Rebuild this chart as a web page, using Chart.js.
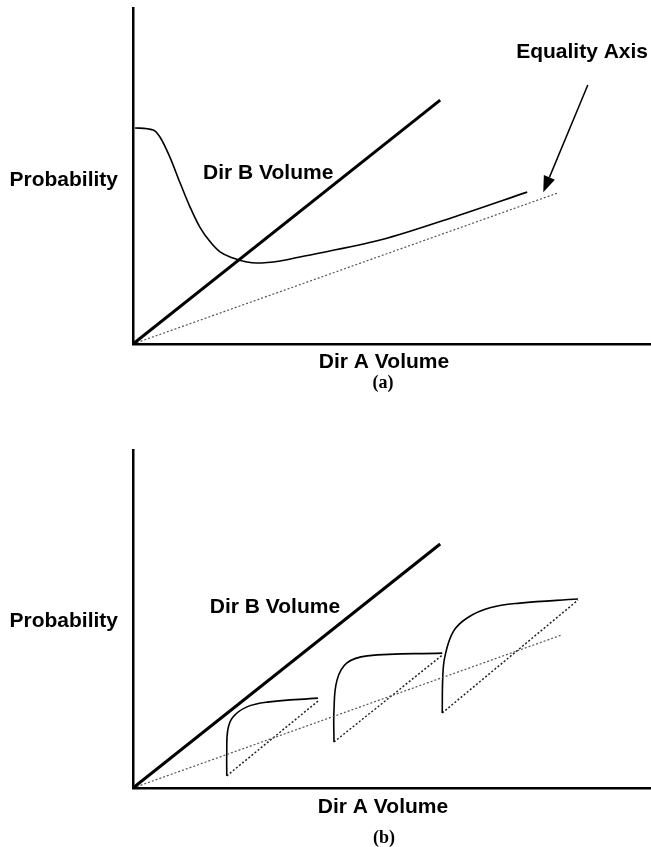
<!DOCTYPE html>
<html>
<head>
<meta charset="utf-8">
<script src="https://cdn.jsdelivr.net/npm/chart.js@4.4.0/dist/chart.umd.min.js"></script>
<style>
  html, body { margin: 0; padding: 0; background: #fff; }
  body { width: 651px; height: 847px; position: relative; overflow: hidden; }
  canvas { position: absolute; left: 0; }
  #panelA { top: 0; }
  #panelB { top: 420px; }
</style>
</head>
<body>
<canvas id="panelA" width="651" height="400"></canvas>
<canvas id="panelB" width="651" height="427"></canvas>
<script>
// Schematic values (x = Dir A volume, y = probability / Dir B volume), both on a 0-100 scale
const xRange = [0, 100];
const yRange = [0, 100];

// panel (a)
const dirBLineA = [{ x: 0, y: 0 }, { x: 59.3, y: 72.6 }];
const equalityA = [{ x: 0, y: 0 }, { x: 81.9, y: 44.9 }];
const probCurveA = [
  { x: 0.4, y: 64.3 }, { x: 3.9, y: 63.7 }, { x: 5.2, y: 61.6 }, { x: 7.1, y: 55.7 },
  { x: 9.1, y: 47.9 }, { x: 11.0, y: 40.8 }, { x: 12.9, y: 34.8 }, { x: 14.9, y: 30.4 },
  { x: 16.8, y: 27.4 }, { x: 19.3, y: 25.6 }, { x: 22.0, y: 24.4 }, { x: 23.9, y: 24.1 },
  { x: 28.4, y: 24.7 }, { x: 32.2, y: 25.9 }, { x: 47.9, y: 31.0 }, { x: 61.4, y: 37.5 },
  { x: 76.1, y: 45.2 }
];
const arrowA = [{ x: 87.8, y: 77.1 }, { x: 79.2, y: 45.2 }];

// panel (b)
const dirBLineB = [{ x: 0, y: 0 }, { x: 59.3, y: 72.2 }];
const equalityB = [{ x: 0, y: 0 }, { x: 82.8, y: 45.3 }];
const hook1 = [
  { x: 18.1, y: 3.6 }, { x: 18.1, y: 10.4 }, { x: 18.3, y: 17.2 }, { x: 19.3, y: 21.0 },
  { x: 22.0, y: 24.0 }, { x: 25.9, y: 25.4 }, { x: 35.7, y: 26.6 }
];
const chord1 = [{ x: 18.1, y: 3.6 }, { x: 35.7, y: 25.7 }];
const hook2 = [
  { x: 38.8, y: 13.6 }, { x: 38.8, y: 23.1 }, { x: 39.4, y: 32.0 }, { x: 41.3, y: 37.0 },
  { x: 45.2, y: 39.1 }, { x: 59.7, y: 39.9 }
];
const chord2 = [{ x: 38.8, y: 13.6 }, { x: 59.7, y: 39.3 }];
const hook3 = [
  { x: 59.7, y: 22.2 }, { x: 59.8, y: 32.8 }, { x: 60.2, y: 38.8 }, { x: 61.8, y: 46.2 },
  { x: 64.5, y: 50.3 }, { x: 68.9, y: 53.3 }, { x: 74.7, y: 54.7 }, { x: 85.9, y: 55.9 }
];
const chord3 = [{ x: 59.7, y: 22.2 }, { x: 85.9, y: 55.6 }];

const labelFont = 'bold 21px "Liberation Sans", Arial, sans-serif';
const captionFont = 'bold 18px "Liberation Serif", "Times New Roman", serif';

const solid = (data, w) => ({ data, borderColor: '#000', borderWidth: w, showLine: true, pointRadius: 0, fill: false });
const dotted = (data, color, w) => ({ data, borderColor: color, borderWidth: w, borderDash: [2, 2], showLine: true, pointRadius: 0, fill: false });
const smooth = (data) => Object.assign(solid(data, 1.6), { tension: 0.4 });

// draws text labels and the arrow
const notes = {
  id: 'notes',
  afterDatasetsDraw(chart, args, opts) {
    const { ctx, chartArea: a, scales: { x, y } } = chart;
    ctx.save();
    ctx.fillStyle = '#000';
    ctx.textBaseline = 'middle';
    (opts.texts || []).forEach(t => {
      ctx.font = t.font;
      ctx.textAlign = t.align || 'center';
      let px, py;
      if (t.data) { px = x.getPixelForValue(t.data.x); py = y.getPixelForValue(t.data.y); }
      else { px = a[t.ax] + t.dx; py = a[t.ay] + t.dy; }
      ctx.fillText(t.text, px, py);
    });
    if (opts.arrow) {
      const [p0, p1] = opts.arrow;
      const x0 = x.getPixelForValue(p0.x), y0 = y.getPixelForValue(p0.y);
      const x1 = x.getPixelForValue(p1.x), y1 = y.getPixelForValue(p1.y);
      const ang = Math.atan2(y1 - y0, x1 - x0);
      const len = 16, half = 6;
      const bx = x1 - len * Math.cos(ang), by = y1 - len * Math.sin(ang);
      ctx.strokeStyle = '#000';
      ctx.lineWidth = 1.5;
      ctx.beginPath();
      ctx.moveTo(x0, y0);
      ctx.lineTo(bx, by);
      ctx.stroke();
      ctx.beginPath();
      ctx.moveTo(x1, y1);
      ctx.lineTo(bx + half * Math.sin(ang), by - half * Math.cos(ang));
      ctx.lineTo(bx - half * Math.sin(ang), by + half * Math.cos(ang));
      ctx.closePath();
      ctx.fill();
    }
    ctx.restore();
  }
};

function makePanel(id, datasets, padTop, xHeight, texts, arrow) {
  return new Chart(document.getElementById(id), {
    type: 'scatter',
    data: { datasets },
    plugins: [notes],
    options: {
      responsive: false,
      animation: false,
      devicePixelRatio: 1,
      layout: { padding: { top: padTop, right: 0, left: 0, bottom: 0 } },
      plugins: {
        legend: { display: false },
        tooltip: { enabled: false },
        notes: { texts, arrow }
      },
      scales: {
        x: {
          type: 'linear', min: xRange[0], max: xRange[1],
          grid: { display: false },
          border: { display: true, color: '#000', width: 2.5 },
          ticks: { display: false },
          afterFit: s => { s.height = xHeight; }
        },
        y: {
          type: 'linear', min: yRange[0], max: yRange[1],
          grid: { display: false },
          border: { display: true, color: '#000', width: 2.5 },
          ticks: { display: false },
          afterFit: s => { s.width = 133; }
        }
      }
    }
  });
}

makePanel('panelA', [
  solid(dirBLineA, 3),
  dotted(equalityA, '#555', 1.2),
  Object.assign(solid(probCurveA, 1.6), { cubicInterpolationMode: 'monotone' })
], 8, 56, [
  { text: 'Probability', font: labelFont, align: 'right', ax: 'left', dx: -15, ay: 'top', dy: 172 },
  { text: 'Dir B Volume', font: labelFont, data: { x: 26.1, y: 50.9 } },
  { text: 'Equality Axis', font: labelFont, data: { x: 86.7, y: 86.9 } },
  { text: 'Dir A Volume', font: labelFont, ax: 'left', dx: 251, ay: 'bottom', dy: 18 },
  { text: '(a)', font: captionFont, ax: 'left', dx: 250, ay: 'bottom', dy: 39 }
], arrowA);

makePanel('panelB', [
  solid(dirBLineB, 3),
  dotted(equalityB, '#555', 1.2),
  smooth(hook1), dotted(chord1, '#222', 1.5),
  smooth(hook2), dotted(chord2, '#222', 1.5),
  smooth(hook3), dotted(chord3, '#222', 1.5)
], 30, 59, [
  { text: 'Probability', font: labelFont, align: 'right', ax: 'left', dx: -15, ay: 'top', dy: 171 },
  { text: 'Dir B Volume', font: labelFont, data: { x: 27.4, y: 53.6 } },
  { text: 'Dir A Volume', font: labelFont, ax: 'left', dx: 250, ay: 'bottom', dy: 19 },
  { text: '(b)', font: captionFont, ax: 'left', dx: 251, ay: 'bottom', dy: 50 }
], null);
</script>
</body>
</html>
